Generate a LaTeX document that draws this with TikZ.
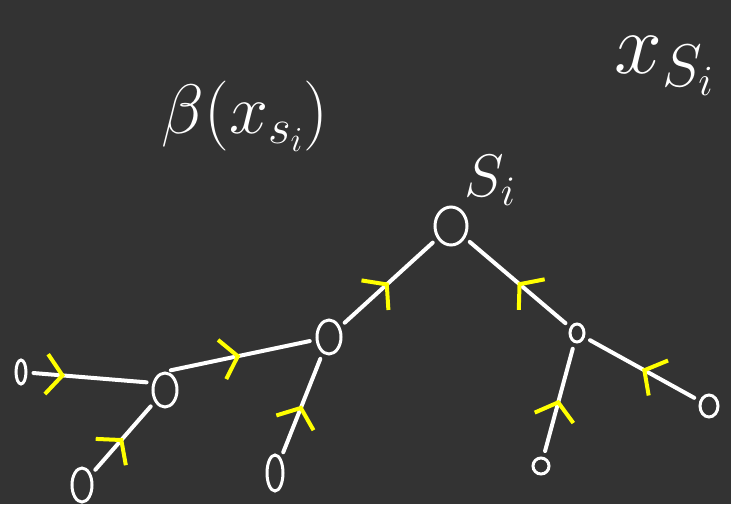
\documentclass[tikz,border=0pt]{standalone}
\usepackage{fix-cm}
\usetikzlibrary{arrows.meta,decorations.markings,shapes.geometric}
\definecolor{board}{HTML}{333333}
\definecolor{chalkyellow}{HTML}{FFFF00}
\begin{document}
\begin{tikzpicture}[x=1pt,y=-1pt,
        vert/.style={draw=white,ellipse,line width=3pt,inner sep=0pt},
        uptree/.style={white,line width=4pt,line cap=round,shorten <=6pt,shorten >=6pt,
            decoration={markings,mark=at position #1 with
                {\arrow[chalkyellow,line width=4pt]{Straight Barb[length=16pt,width=40pt]}}},
            postaction={decorate}},
        uptree/.default=0.5,
        chalk/.style={white,inner sep=0pt}]
        \fill [board] (0,0) rectangle (731,504);

        % labels
        \node [chalk] (beta) at (245,116) {\fontsize{70}{70}\selectfont $\beta(x_{s_i})$};
        \node [chalk] (xsi) at (664,66) {\fontsize{86}{86}\selectfont $x_{S_i}$};
        \node [chalk] (si) at (490,180) {\fontsize{60}{60}\selectfont $S_i$};

        % vertices
        \node [vert,minimum width=32pt,minimum height=38pt] (root) at (451,226) {};
        \node [vert,minimum width=24pt,minimum height=34pt] (a) at (329,337) {};
        \node [vert,minimum width=24pt,minimum height=34pt] (b) at (165,390) {};
        \node [vert,minimum width=14pt,minimum height=18pt] (c) at (577,333) {};
        \node [vert,minimum width=10pt,minimum height=24pt] (l1) at (21,372) {};
        \node [vert,minimum width=20pt,minimum height=34pt] (l2) at (82,485) {};
        \node [vert,minimum width=16pt,minimum height=36pt] (l3) at (275,473) {};
        \node [vert,minimum width=18pt,minimum height=22pt] (d) at (709,406) {};
        \node [vert,minimum width=16pt,minimum height=16pt] (e) at (541,466) {};

        % edges, pointing up the tree
        \draw [uptree=0.3] (l1) -- (b.150);
        \draw [uptree] (l2) -- (b);
        \draw [uptree] (b.north) -- (a);
        \draw [uptree] (l3) -- (a);
        \draw [uptree] (a) -- (root);
        \draw [uptree] (c) -- (root);
        \draw [uptree] (d) -- (c);
        \draw [uptree] (e) -- (c);
    \end{tikzpicture}
\end{document}
